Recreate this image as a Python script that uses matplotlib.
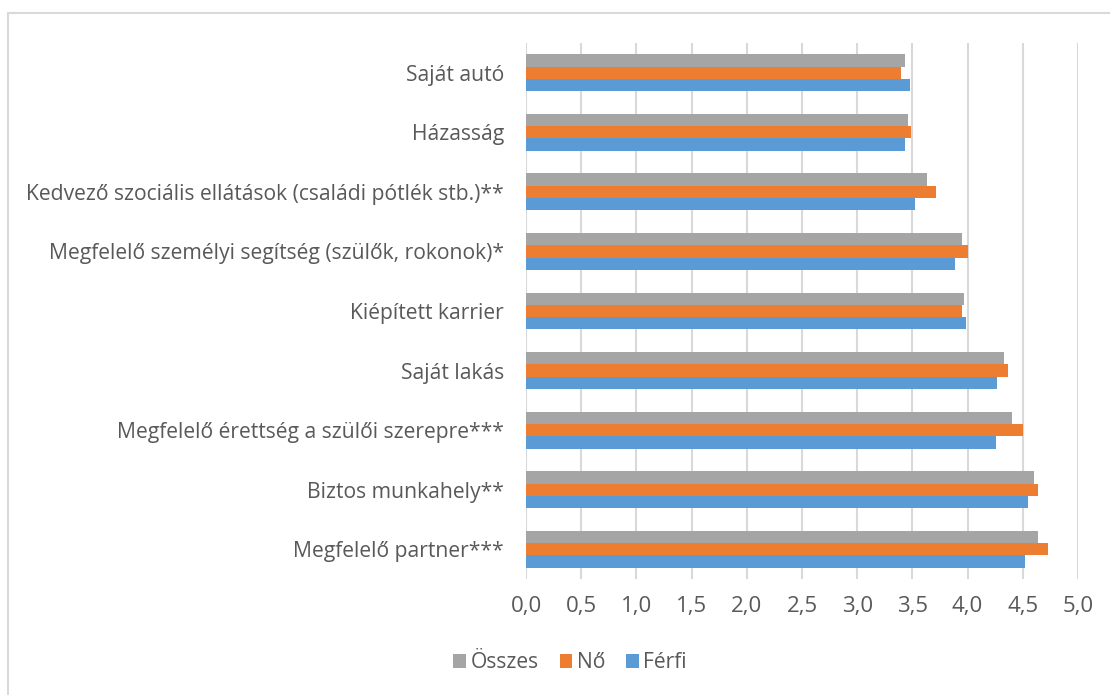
import matplotlib.pyplot as plt
import numpy as np
from matplotlib.patches import Rectangle

categories = [
    "Saját autó",
    "Házasság",
    "Kedvező szociális ellátások (családi pótlék stb.)**",
    "Megfelelő személyi segítség (szülők, rokonok)*",
    "Kiépített karrier",
    "Saját lakás",
    "Megfelelő érettség a szülői szerepre***",
    "Biztos munkahely**",
    "Megfelelő partner***",
]
osszes = [3.43, 3.46, 3.63, 3.95, 3.97, 4.33, 4.40, 4.60, 4.64]
no = [3.40, 3.49, 3.71, 4.00, 3.95, 4.37, 4.50, 4.64, 4.73]
ferfi = [3.48, 3.43, 3.52, 3.89, 3.99, 4.27, 4.26, 4.55, 4.52]

xticks = np.arange(0, 5.01, 0.5)
xtick_labels = [f"{v:.1f}".replace(".", ",") for v in xticks]

plt.rcParams['font.family'] = ['Open Sans', 'DejaVu Sans']
text_color = "#595959"
fs = 15.2

W, H = 1110, 695
fig = plt.figure(figsize=(W / 100, H / 100), dpi=100)
ax = fig.add_axes([526 / W, 1 - 579 / H, (1078 - 526) / W, (579 - 43) / H])

fig.patches.append(Rectangle((8 / W, -0.1), 1.2, 1 - 13 / H + 0.1,
                             transform=fig.transFigure, fill=False,
                             edgecolor="#D9D9D9", linewidth=1.5))

y = np.arange(len(categories))
h = 0.207
ax.barh(y - h, osszes, height=h, color="#A5A5A5", label="Összes")
ax.barh(y, no, height=h, color="#ED7D31", label="Nő")
ax.barh(y + h, ferfi, height=h, color="#5B9BD5", label="Férfi")

ax.set_ylim(len(categories) - 0.5, -0.5)
ax.set_xlim(0, 5)
ax.set_xticks(xticks)
ax.set_xticklabels(xtick_labels, fontsize=16, color=text_color)
ax.set_yticks(y)
ax.set_yticklabels(categories, fontsize=fs, color=text_color)
ax.tick_params(axis="x", length=0, pad=12)
ax.tick_params(axis="y", length=0, pad=16)
ax.grid(axis="x", color="#D9D9D9", linewidth=1.5)
ax.set_axisbelow(True)
for s in ax.spines.values():
    s.set_visible(False)

handles, labels = ax.get_legend_handles_labels()
fig.legend(handles, labels, loc="center", bbox_to_anchor=(570 / W, 1 - 663 / H),
           ncol=3, frameon=False, fontsize=fs, labelcolor=text_color,
           handlelength=0.6, handleheight=0.6, handletextpad=0.2,
           columnspacing=1.0)

fig.savefig("out.png", dpi=100)
